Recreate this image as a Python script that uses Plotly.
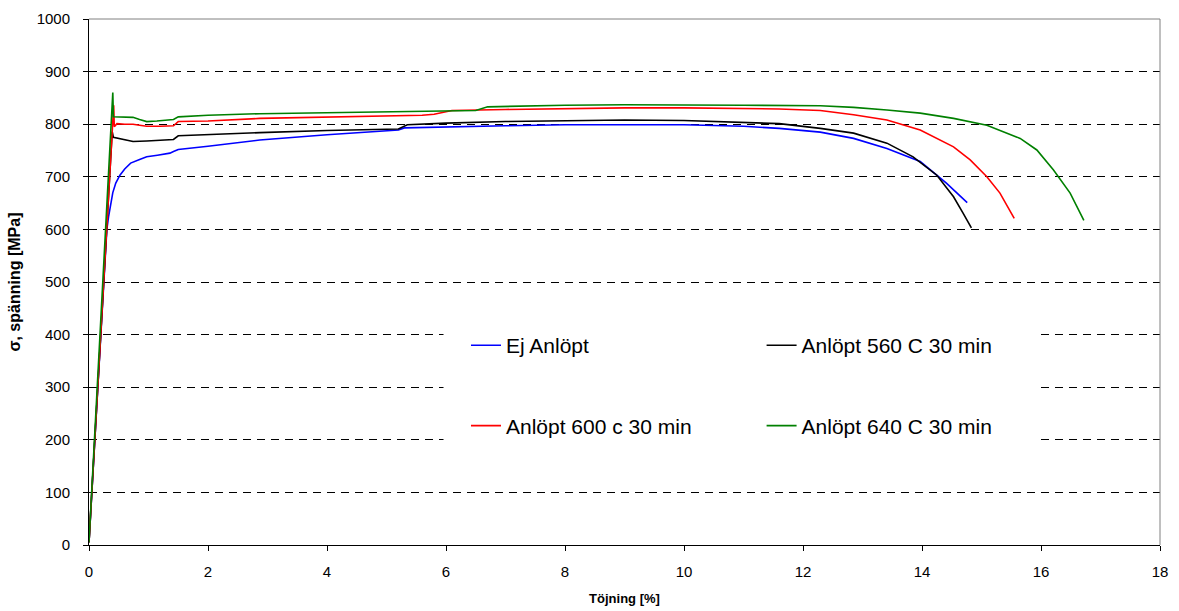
import plotly.graph_objects as go

# ---- data (strain %, stress MPa) ----
names = ["Ej Anlöpt", "Anlöpt 560 C 30 min", "Anlöpt 600 c 30 min", "Anlöpt 640 C 30 min"]
colors = ["#0000FF", "#000000", "#FF0000", "#008000"]

blue_x = [0, 0.30, 0.33, 0.36, 0.40, 0.45, 0.52, 0.60, 0.70, 0.85, 0.97, 1.15, 1.36, 1.42, 1.50,
          2.0, 2.87, 4.0, 5.0, 5.2, 5.3, 6.0, 7.0, 8.0, 9.0, 10.0, 11.0, 11.6, 12.29, 12.85,
          13.41, 13.97, 14.41, 14.76]
blue_y = [5, 600, 625, 648, 670, 688, 703, 715, 726, 733, 738, 741, 745, 748, 752,
          758, 770, 780, 788, 789, 793, 795, 797, 799, 799.5, 799, 796, 792, 785, 773,
          754, 729, 688, 651]

black_x = [0, 0.39, 0.41, 0.50, 0.58, 0.74, 0.97, 1.20, 1.42, 1.50, 2.09, 2.87, 4.0, 5.0, 5.2,
           5.35, 6.0, 7.0, 8.0, 9.0, 10.0, 11.0, 11.6, 12.29, 12.85, 13.41, 13.85, 14.25,
           14.53, 14.69, 14.83]
black_y = [5, 786, 775, 773, 771, 767, 768, 769, 771, 778, 781, 784, 788, 790, 791,
           799, 802, 805, 807, 808, 807, 804, 801, 792, 783, 764, 738, 703,
           662, 631, 603]

red_x = [0, 0.415, 0.425, 0.47, 0.60, 0.74, 0.85, 0.97, 1.20, 1.42, 1.50, 2.0, 2.87, 4.0, 5.0,
         5.6, 5.8, 6.1, 7.0, 8.0, 9.0, 10.0, 11.0, 11.6, 12.29, 12.85, 13.41, 13.97, 14.53,
         14.81, 15.09, 15.31, 15.55]
red_y = [5, 836, 795, 801, 800, 800, 798, 796, 796, 797, 805, 806, 811, 814, 816,
         817, 819, 826, 828, 830, 831, 831, 830, 829, 826, 818, 808, 789, 757,
         732, 700, 669, 621]

green_x = [0, 0.40, 0.41, 0.58, 0.74, 0.85, 0.97, 1.14, 1.30, 1.42, 1.50, 2.0, 2.87, 4.0, 5.0,
           6.0, 6.5, 6.7, 7.0, 8.0, 9.0, 10.0, 11.0, 12.29, 12.85, 13.41, 13.97, 14.53, 15.09,
           15.65, 15.93, 16.21, 16.49, 16.72]
green_y = [5, 860, 814, 814, 813, 809, 805, 806, 807, 809, 814, 817, 820, 822, 824,
           825, 826, 833, 834, 836, 837, 837, 836, 835, 832, 827, 821, 811, 798,
           773, 751, 713, 669, 617]

x_ticks = [0, 2, 4, 6, 8, 10, 12, 14, 16, 18]
y_ticks = [0, 100, 200, 300, 400, 500, 600, 700, 800, 900, 1000]

series = [(blue_x, blue_y, "legend"), (black_x, black_y, "legend2"),
          (red_x, red_y, "legend"), (green_x, green_y, "legend2")]

FONT = "Liberation Sans, Arial, sans-serif"

fig = go.Figure()
for i, (xs, ys, lg) in enumerate(series):
    fig.add_trace(go.Scatter(x=xs, y=ys, mode="lines", name=names[i],
                             line=dict(color=colors[i], width=1.6),
                             legend=lg, legendgroup=f"g{i}"))

legend_common = dict(bgcolor="rgba(255,255,255,0)", borderwidth=0,
                     font=dict(family=FONT, size=21, color="#000000"),
                     tracegroupgap=50, yanchor="top", xanchor="left", itemwidth=30)

fig.update_layout(
    width=1179, height=611,
    margin=dict(l=89, r=19, t=19, b=66),
    paper_bgcolor="white", plot_bgcolor="white",
    font=dict(family=FONT, size=15, color="#000000"),
    legend=dict(x=0.352, y=0.418, **legend_common),
    legend2=dict(x=0.628, y=0.418, **legend_common),
    xaxis=dict(range=[0, 18], tickvals=x_ticks, ticks="outside", ticklen=5, tickcolor="#000000",
               showline=True, linecolor="#000000", linewidth=1, showgrid=False, zeroline=False,
               ticklabelstandoff=8, tickfont=dict(size=15), automargin=False,
               title=dict(text="<b>Töjning [%]</b>", font=dict(size=13), standoff=14)),
    yaxis=dict(range=[0, 1000], tickvals=y_ticks, ticks="outside", ticklen=5, tickcolor="#000000",
               showline=True, linecolor="#000000", linewidth=1, zeroline=False,
               showgrid=True, gridcolor="#000000", gridwidth=1, griddash="8px,6px",
               ticklabelstandoff=10, tickfont=dict(size=15), automargin=False,
               title=dict(text="<b>σ, spänning [MPa]</b>", font=dict(size=16), standoff=12)),
    shapes=[
        dict(type="rect", xref="paper", yref="paper", x0=0.331, x1=0.885, y0=0.143, y1=0.466,
             fillcolor="white", line=dict(width=0), layer="above"),
        dict(type="line", xref="paper", yref="paper", x0=0, x1=1, y0=1, y1=1,
             line=dict(color="#808080", width=1), layer="above"),
        dict(type="line", xref="paper", yref="paper", x0=1, x1=1, y0=0, y1=1,
             line=dict(color="#808080", width=1), layer="above"),
    ],
)

fig.write_html("out.html")
